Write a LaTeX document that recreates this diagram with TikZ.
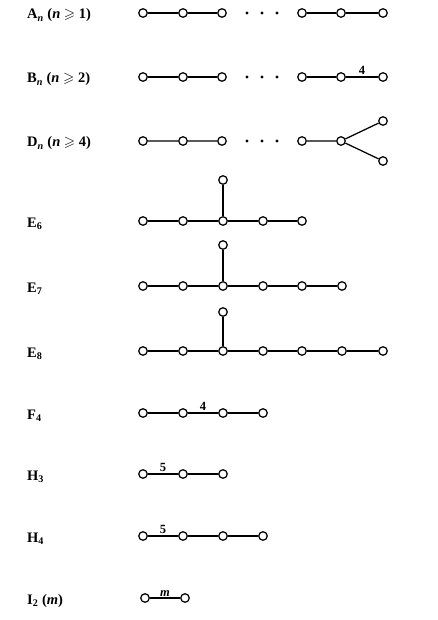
\documentclass[tikz,border=0pt]{standalone}
\usepackage{amssymb}
\usepackage{fontspec}
\setmainfont{Liberation Serif}
\begin{document}
\begin{tikzpicture}[x=1pt,y=-1pt,
  vtx/.style={circle,draw,fill=white,inner sep=0pt,minimum size=8.5pt,line width=1.25pt},
  edge/.style={line width=1.25pt},
  lbl/.style={anchor=base west,font=\fontsize{14.5}{16}\selectfont\bfseries,inner sep=0pt},
  wt/.style={font=\fontsize{12.5}{13}\selectfont\bfseries,inner sep=2pt,above},
  dotm/.style={circle,fill,inner sep=0pt,minimum size=3.2pt}]
\useasboundingbox (0,0) rectangle (438,620);

% A_n
\node[lbl] (la) at (27,19) {A\textsubscript{\textit{n}} (\textit{n} $\geqslant$ 1)};
\foreach \i/\x in {1/143,2/183,3/222,4/302,5/341,6/383} \node[vtx] (a\i) at (\x,13) {};
\foreach \i/\x in {1/247,2/262,3/277} \node[dotm] (ad\i) at (\x,13) {};
\draw[edge] (a1) -- (a2) (a2) -- (a3) (a4) -- (a5) (a5) -- (a6);

% B_n
\node[lbl] (lb) at (27,83) {B\textsubscript{\textit{n}} (\textit{n} $\geqslant$ 2)};
\foreach \i/\x in {1/143,2/183,3/222,4/302,5/341,6/383} \node[vtx] (b\i) at (\x,77) {};
\foreach \i/\x in {1/247,2/262,3/277} \node[dotm] (bd\i) at (\x,77) {};
\draw[edge] (b1) -- (b2) (b2) -- (b3) (b4) -- (b5);
\draw[edge] (b5) -- node[wt] (bw) {4} (b6);

% D_n
\node[lbl] (ld) at (27,147) {D\textsubscript{\textit{n}} (\textit{n} $\geqslant$ 4)};
\foreach \i/\x/\y in {1/143/141,2/183/141,3/222/141,4/302/141,5/341/141,6/383/121,7/383/161} \node[vtx] (d\i) at (\x,\y) {};
\foreach \i/\x in {1/247,2/262,3/277} \node[dotm] (dd\i) at (\x,141) {};
\draw[edge] (d1) -- (d2) (d2) -- (d3) (d4) -- (d5) (d5) -- (d6) (d5) -- (d7);

% E6
\node[lbl] (le6) at (27,227) {E\textsubscript{6}};
\foreach \i/\x in {1/143,2/183,3/223,4/263,5/302} \node[vtx] (es\i) at (\x,221) {};
\node[vtx] (est) at (223,180) {};
\draw[edge] (es1) -- (es2) (es2) -- (es3) (es3) -- (es4) (es4) -- (es5) (es3) -- (est);

% E7
\node[lbl] (le7) at (27,292) {E\textsubscript{7}};
\foreach \i/\x in {1/143,2/183,3/223,4/263,5/302,6/342} \node[vtx] (ev\i) at (\x,286) {};
\node[vtx] (evt) at (223,245) {};
\draw[edge] (ev1) -- (ev2) (ev2) -- (ev3) (ev3) -- (ev4) (ev4) -- (ev5) (ev5) -- (ev6) (ev3) -- (evt);

% E8
\node[lbl] (le8) at (27,357) {E\textsubscript{8}};
\foreach \i/\x in {1/143,2/183,3/223,4/263,5/302,6/342,7/383} \node[vtx] (ee\i) at (\x,351) {};
\node[vtx] (eet) at (223,312) {};
\draw[edge] (ee1) -- (ee2) (ee2) -- (ee3) (ee3) -- (ee4) (ee4) -- (ee5) (ee5) -- (ee6) (ee6) -- (ee7) (ee3) -- (eet);

% F4
\node[lbl] (lf) at (27,419) {F\textsubscript{4}};
\foreach \i/\x in {1/143,2/183,3/223,4/263} \node[vtx] (f\i) at (\x,413) {};
\draw[edge] (f1) -- (f2) (f3) -- (f4);
\draw[edge] (f2) -- node[wt] (fw) {4} (f3);

% H3
\node[lbl] (lh3) at (27,480) {H\textsubscript{3}};
\foreach \i/\x in {1/143,2/183,3/223} \node[vtx] (h\i) at (\x,474) {};
\draw[edge] (h2) -- (h3);
\draw[edge] (h1) -- node[wt] (hw) {5} (h2);

% H4
\node[lbl] (lh4) at (27,542) {H\textsubscript{4}};
\foreach \i/\x in {1/143,2/183,3/223,4/263} \node[vtx] (k\i) at (\x,536) {};
\draw[edge] (k2) -- (k3) (k3) -- (k4);
\draw[edge] (k1) -- node[wt] (kw) {5} (k2);

% I2
\node[lbl] (li) at (27,604) {I\textsubscript{2} (\textit{m})};
\node[vtx] (i1) at (145,598) {};
\node[vtx] (i2) at (185,598) {};
\draw[edge] (i1) -- node[wt,inner sep=1pt] (iw) {\textit{m}} (i2);
\end{tikzpicture}
\end{document}
